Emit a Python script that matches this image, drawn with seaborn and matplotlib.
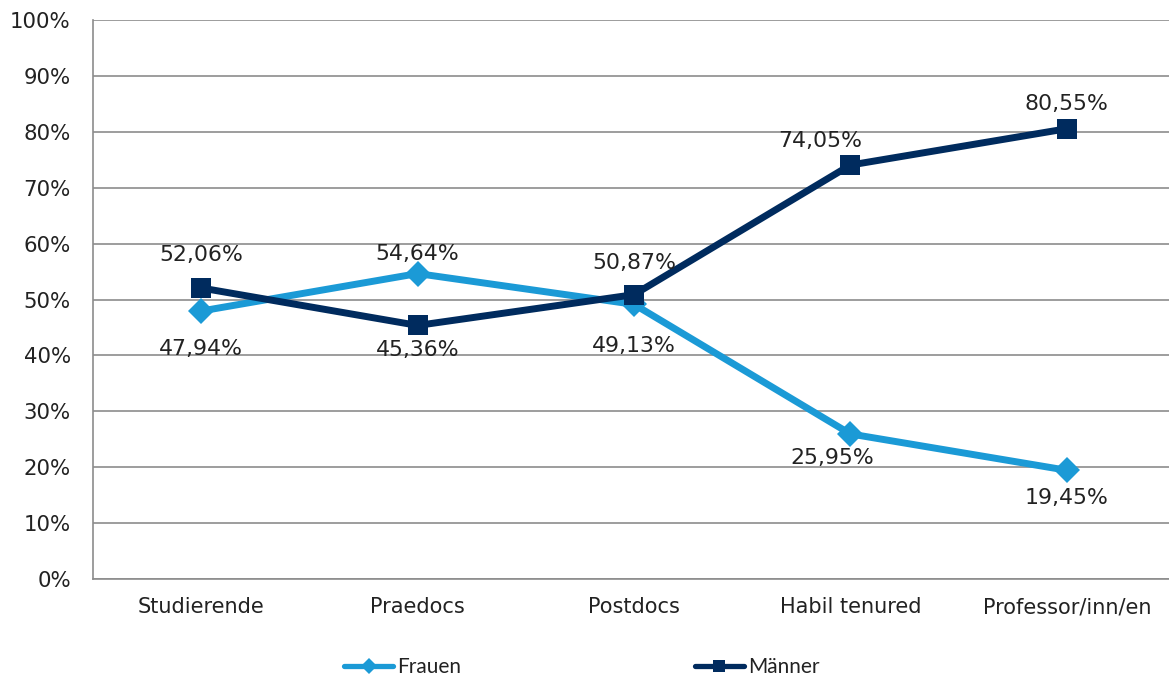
import matplotlib
matplotlib.use("Agg")
import matplotlib.pyplot as plt
import seaborn as sns
import pandas as pd

# Anteile nach Karrierestufe
stufen = ["Studierende", "Praedocs", "Postdocs", "Habil tenured", "Professor/inn/en"]
frauen = [47.94, 54.64, 49.13, 25.95, 19.45]
maenner = [52.06, 45.36, 50.87, 74.05, 80.55]
serien = ["Frauen", "Männer"]
y_ticks = [0, 10, 20, 30, 40, 50, 60, 70, 80, 90, 100]

df = pd.DataFrame({
    "Stufe": stufen * 2,
    "Anteil": frauen + maenner,
    "Gruppe": [serien[0]] * len(stufen) + [serien[1]] * len(stufen),
})

sns.set_theme(style="white")
plt.rcParams["font.family"] = ["DejaVu Sans"]
text_col = "#222222"
grid_col = "#8c8c8c"
farben = {"Frauen": "#1b9ad6", "Männer": "#002b5e"}
marker = {"Frauen": "D", "Männer": "s"}
msize = {"Frauen": 13, "Männer": 15}

fig = plt.figure(figsize=(11.69, 6.77), dpi=100)
ax = fig.add_axes([93 / 1169, 1 - 579 / 677, 1082 / 1169, 559 / 677])

for g in serien:
    sub = df[df["Gruppe"] == g]
    sns.lineplot(data=sub, x="Stufe", y="Anteil", ax=ax, color=farben[g],
                 linewidth=5, marker=marker[g], markersize=msize[g],
                 markeredgewidth=0, sort=False, label=g,
                 zorder=3 if g == "Frauen" else 4)

ax.set_xlim(-0.5, len(stufen) - 0.5)
ax.set_ylim(0, 100)
ax.set_yticks(y_ticks)
ax.set_yticklabels([f"{t}%" for t in y_ticks])
ax.set_xlabel("")
ax.set_ylabel("")
ax.yaxis.grid(True, color=grid_col, linewidth=1.2)
ax.set_axisbelow(True)
for s in ["top", "right"]:
    ax.spines[s].set_visible(False)
for s in ["left", "bottom"]:
    ax.spines[s].set_color(grid_col)
    ax.spines[s].set_linewidth(1.2)
ax.tick_params(axis="y", length=0, pad=16, labelsize=15.3, labelcolor=text_col)
ax.tick_params(axis="x", length=0, pad=13, labelsize=15, labelcolor=text_col)

# Beschriftungen der Datenpunkte (Versatz in Punkten)
versatz = {
    "Frauen": [(0, -27), (0, 14), (0, -30), (-13, -17), (0, -20)],
    "Männer": [(0, 24), (0, -18), (0, 23), (-22, 17), (0, 18)],
}
for g, werte in (("Frauen", frauen), ("Männer", maenner)):
    for i, v in enumerate(werte):
        ax.annotate(f"{v:.2f}".replace(".", ",") + "%", (i, v),
                    xytext=versatz[g][i], textcoords="offset points",
                    ha="center", va="center", fontsize=15.8, color=text_col,
                    zorder=5)

leg = ax.legend(loc="center", bbox_to_anchor=(582 / 1169, 1 - 667 / 677),
                bbox_transform=fig.transFigure, ncol=2, frameon=False,
                prop={"family": "Lato", "size": 15}, handlelength=2.35,
                handletextpad=0.2, columnspacing=11.2, labelcolor=text_col)
for h in leg.legend_handles:
    h.set_linewidth(3.8)
    h.set_markersize(8)

fig.savefig("out.png", dpi=100)
